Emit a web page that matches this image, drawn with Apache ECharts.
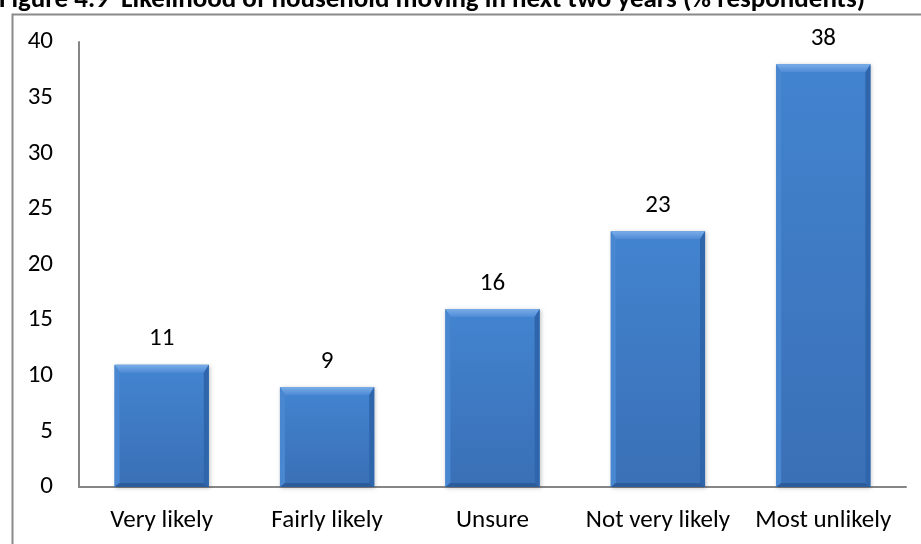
<!DOCTYPE html>
<html>
<head>
<meta charset="utf-8">
<script src="https://cdn.jsdelivr.net/npm/echarts@6/dist/echarts.min.js"></script>
<style>
  html, body { margin: 0; padding: 0; background: #fff; }
  #chart { width: 921px; height: 544px; }
</style>
</head>
<body>
<div id="chart"></div>
<script>
// Likelihood of household moving in the next two years (% respondents)
const categories = ['Very likely', 'Fairly likely', 'Unsure', 'Not very likely', 'Most unlikely'];
const values = [11, 9, 16, 23, 38];
const yMin = 0;
const yMax = 40;
const yStep = 5;
const titleText = 'Figure 4.9  Likelihood of household moving in next two years (% respondents)';

const FONT = 'Carlito, Lato, "Liberation Sans", sans-serif';

const chart = echarts.init(document.getElementById('chart'), null, { renderer: 'canvas' });

// Bevelled bar: flat face plus four trapezoid edges, positioned through the axes.
function renderBevelBar(params, api) {
  const idx = api.value(0);
  const val = api.value(1);
  const base = api.coord([idx, 0]);
  const top = api.coord([idx, val]);
  const bw = api.size([1, 0])[0] * 0.57;
  const x1 = base[0] - bw / 2;
  const x2 = base[0] + bw / 2;
  const y1 = top[1];
  const y2 = base[1];
  const bt = 8, bs = 5, bb = 4;
  const ix1 = x1 + bs, ix2 = x2 - bs, iy1 = y1 + bt, iy2 = y2 - bb;
  return {
    type: 'group',
    children: [
      { type: 'rect', shape: { x: x1, y: y1, width: bw, height: y2 - y1 },
        style: { fill: '#3d7cc8', shadowBlur: 4, shadowColor: 'rgba(0,0,0,0.25)', shadowOffsetX: 1, shadowOffsetY: 1 } },
      { type: 'rect', shape: { x: ix1, y: iy1, width: ix2 - ix1, height: iy2 - iy1 },
        style: { fill: new echarts.graphic.LinearGradient(0, 0, 0, 1, [
          { offset: 0, color: '#4283cf' }, { offset: 1, color: '#3a70b6' }]) } },
      { type: 'polygon', shape: { points: [[x1, y1], [x2, y1], [ix2, iy1], [ix1, iy1]] },
        style: { fill: new echarts.graphic.LinearGradient(0, 0, 0, 1, [
          { offset: 0, color: '#7aaee8' }, { offset: 1, color: '#4f8ad6' }]) } },
      { type: 'polygon', shape: { points: [[x1, y1], [ix1, iy1], [ix1, iy2], [x1, y2]] },
        style: { fill: '#4a87d1' } },
      { type: 'polygon', shape: { points: [[x2, y1], [ix2, iy1], [ix2, iy2], [x2, y2]] },
        style: { fill: '#2f65ab' } },
      { type: 'polygon', shape: { points: [[x1, y2], [ix1, iy2], [ix2, iy2], [x2, y2]] },
        style: { fill: '#2c5c9c' } },
      { type: 'text', style: { text: String(val), x: base[0], y: y1 - 13,
        textAlign: 'center', textVerticalAlign: 'bottom',
        font: '25px ' + FONT, fill: '#000' } }
    ]
  };
}

chart.setOption({
  animation: false,
  backgroundColor: '#fff',
  graphic: [
    { type: 'rect', left: 10, top: 12, shape: { width: 930, height: 560 },
      style: { fill: 'none', stroke: '#8a8a8a', lineWidth: 2 }, z: 0 },
    { type: 'text', z: 10,
      style: { text: titleText, x: -1, y: 14, textVerticalAlign: 'bottom',
        font: 'bold 27px ' + FONT, fill: '#000' } }
  ],
  grid: { left: 79, right: 15, top: 42, bottom: 57, containLabel: false },
  xAxis: {
    type: 'category',
    data: categories,
    axisLine: { lineStyle: { color: '#868686', width: 2 } },
    axisTick: { show: false },
    axisLabel: { color: '#000', fontSize: 25, fontFamily: FONT, margin: 21, interval: 0 }
  },
  yAxis: {
    type: 'value',
    min: yMin, max: yMax, interval: yStep,
    axisLine: { show: true, lineStyle: { color: '#868686', width: 2 } },
    axisTick: { show: false },
    splitLine: { show: false },
    axisLabel: { color: '#000', fontSize: 25, fontFamily: FONT, margin: 26 }
  },
  series: [{
    type: 'custom',
    renderItem: renderBevelBar,
    encode: { x: 0, y: 1 },
    data: values.map((v, i) => [i, v]),
    clip: false
  }]
});
</script>
</body>
</html>
